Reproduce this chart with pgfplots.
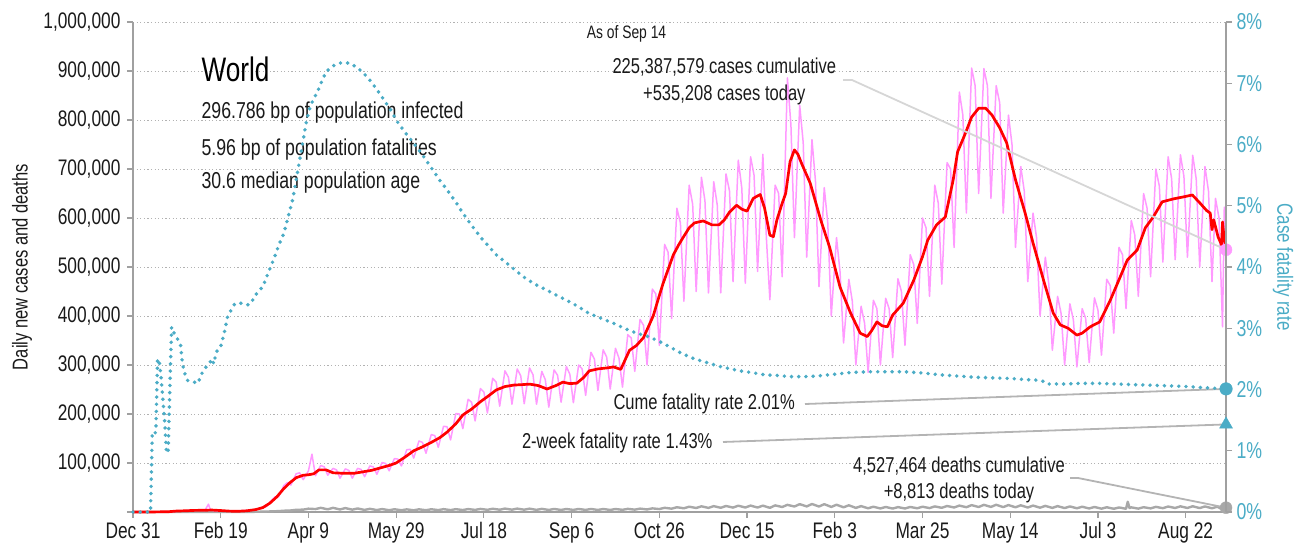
\documentclass[border=0pt]{standalone}
\usepackage{fontspec}
\setmainfont{Liberation Sans}[FakeStretch=0.77]
\usepackage{pgfplots}
\pgfplotsset{compat=1.18}
\definecolor{teal1}{HTML}{4BACC6}
\definecolor{pinkc}{HTML}{FF99FF}
\definecolor{axgrey}{HTML}{A0A0A0}
\definecolor{deathgrey}{HTML}{A8A8A8}
\definecolor{txt}{HTML}{1A1A1A}
\definecolor{leadA}{HTML}{D6D6D6}
\definecolor{leadB}{HTML}{B4B4B4}
\begin{document}
\begin{tikzpicture}[x=1pt,y=1pt]
\useasboundingbox (-133,-38) rectangle (1165,512);
\begin{axis}[
  at={(0,0)}, anchor=south west,
  scale only axis, width=1093pt, height=490pt,
  xmin=0, xmax=623, ymin=0, ymax=1000000,
  axis x line*=bottom, axis y line*=left,
  axis line style={draw=axgrey, line width=1.5pt, -},
  xtick={0,50,100,150,200,250,300,350,400,450,500,550,600},
  xticklabels={Dec 31,Feb 19,Apr 9,May 29,Jul 18,Sep 6,Oct 26,Dec 15,Feb 3,Mar 25,May 14,Jul 3,Aug 22},
  ytick={0,100000,200000,300000,400000,500000,600000,700000,800000,900000,1000000},
  yticklabels={{},{100,000},{200,000},{300,000},{400,000},{500,000},{600,000},{700,000},{800,000},{900,000},{1,000,000}},
  scaled y ticks=false,
  tick align=outside, major tick length=6pt,
  tick style={draw=axgrey, line width=1.2pt},
  ymajorgrids, grid style={draw=black!30, line width=1pt, dash pattern=on 1.2pt off 2.4pt},
  ticklabel style={font=\fontsize{22.5}{25}\selectfont, text=txt},
  yticklabel style={xshift=-3pt},
  xticklabel style={yshift=-1pt},
  ylabel={Daily new cases and deaths},
  ylabel style={font=\fontsize{21.5}{24}\selectfont, text=txt, at={(axis description cs:-0.1016,0.5)}, anchor=center},
  clip=false,
]
% deaths
\addplot[deathgrey, line width=2.4pt, line join=round] coordinates {
(0,0)(55,50)(62,150)(66,300)(69,400)(72,600)(76,900)(79,1300)(83,1800)(86,2600)(90,3200)(93,4500)(97,4800)(100,6800)
(104,6000)(107,8500)(111,5500)(114,8500)(118,5200)(121,8000)(125,4800)(128,7200)(132,4300)(135,6500)(139,4000)(142,6000)
(146,3600)(149,5600)(153,3600)(156,5400)(160,3500)(163,5500)(167,3600)(170,5600)(174,3900)(177,5800)(181,3900)(184,5800)
(188,4000)(191,6000)(195,4300)(198,6300)(202,4500)(205,6600)(209,4700)(212,6900)(216,4800)(219,6900)(223,4700)(226,6800)
(230,4400)(233,6400)(237,4200)(240,6200)(244,4200)(247,6100)(251,4300)(254,6200)(258,4300)(261,6200)(265,4200)(268,6100)
(272,4200)(275,6100)(279,4500)(282,6400)(286,4800)(289,6900)(293,5200)(296,7400)(300,6000)(303,8600)(307,6800)(310,9700)
(314,7600)(317,10800)(321,8200)(324,11600)(328,8400)(331,12000)(335,8600)(338,12300)(342,9000)(345,12900)(349,9200)(352,13100)
(356,9100)(359,13000)(363,8500)(366,13500)(370,10200)(373,14600)(377,11200)(380,16000)(384,11400)(387,16300)(391,11200)(394,16000)
(398,10400)(401,14800)(405,9600)(408,13700)(412,8400)(415,12000)(419,7600)(422,10800)(426,7200)(429,10300)(433,7000)(436,10000)
(440,7200)(443,10300)(447,7600)(450,10800)(454,8000)(457,11400)(461,8600)(464,12300)(468,9200)(471,13100)(475,9800)(478,14000)
(482,10200)(485,14600)(489,10400)(492,14800)(496,10000)(499,14200)(503,9600)(506,13700)(510,9200)(513,13100)(517,8800)(520,12500)
(524,8400)(527,12000)(531,8000)(534,11400)(538,7600)(541,10800)(545,7200)(548,10300)(552,6800)(555,9700)(559,6600)(562,9300)
(566,6600)(567,21000)(568,8000)(569,9500)(573,6900)(576,9800)(580,7400)(583,10500)(587,7800)(590,11200)(594,8200)(597,11600)
(601,8200)(604,11700)(608,8000)(611,11400)(615,7600)(618,10800)(620,7000)(622,10000)(623,8813)
};
% daily cases
\addplot[pinkc, line width=1.5pt, line join=round] coordinates {
(0,0)(10,0)(20,300)(23,900)(26,2000)(29,2100)(32,3200)(35,3900)(38,3800)(41,3000)(43,16000)(44,5500)(46,2600)(49,2400)
(52,1900)(55,1500)(58,1800)(61,2400)(64,3000)(66,3400)(69,4000)(72,7500)(74,10000)(76,11000)(79,24000)(81,31000)
(83,31000)(86,54000)(88,60000)(90,55000)(93,78000)(95,80000)(97,66000)(100,84000)(102,118000)(104,74000)(107,95000)(109,92000)
(111,75000)(114,89000)(116,86000)(118,69000)(121,88000)(123,85000)(125,69000)(128,89000)(130,87000)(132,72000)(135,94000)(137,92000)
(139,77000)(142,101000)(144,99000)(146,84000)(149,109000)(151,108000)(153,94000)(156,127000)(158,128000)(160,110000)(163,145000)(165,142000)
(167,120000)(170,158000)(172,156000)(174,132000)(177,175000)(179,174000)(181,147000)(184,201000)(186,200000)(188,170000)(191,230000)(193,224000)
(195,186000)(198,252000)(200,245000)(202,202000)(205,273000)(207,265000)(209,216000)(212,288000)(214,275000)(216,220000)(219,292000)(221,278000)
(223,221000)(226,294000)(228,280000)(230,220000)(233,287000)(235,270000)(237,214000)(240,290000)(242,279000)(244,224000)(247,297000)(249,281000)
(251,223000)(254,300000)(256,292000)(258,238000)(261,326000)(263,312000)(265,248000)(268,331000)(270,316000)(272,251000)(275,334000)(277,314000)
(279,255000)(282,362000)(284,355000)(286,287000)(289,393000)(291,381000)(293,300000)(296,455000)(298,445000)(300,340000)(303,546000)(305,530000)
(307,395000)(310,620000)(312,590000)(314,430000)(317,667000)(319,628000)(321,450000)(324,683000)(326,635000)(328,447000)(331,674000)(333,627000)
(335,447000)(338,690000)(340,655000)(342,470000)(345,718000)(347,661000)(349,467000)(352,725000)(354,687000)(356,491000)(359,730000)(361,560000)
(363,433000)(366,667000)(368,650000)(370,480000)(373,886000)(375,790000)(377,560000)(380,830000)(382,754000)(384,520000)(387,760000)(389,675000)
(391,460000)(394,662000)(396,590000)(398,400000)(401,560000)(403,490000)(405,345000)(408,475000)(410,430000)(412,300000)(415,420000)(417,385000)
(419,285000)(422,432000)(424,415000)(426,300000)(429,436000)(431,415000)(433,315000)(436,476000)(438,450000)(440,340000)(443,525000)(445,505000)
(447,385000)(450,600000)(452,580000)(454,440000)(457,667000)(459,630000)(461,465000)(464,713000)(466,700000)(468,540000)(471,857000)(473,810000)
(475,610000)(478,906000)(480,870000)(482,650000)(485,905000)(487,870000)(489,640000)(492,870000)(494,835000)(496,610000)(499,810000)(501,750000)
(503,540000)(506,705000)(508,655000)(510,470000)(513,610000)(515,560000)(517,400000)(520,520000)(522,465000)(524,330000)(527,440000)(529,405000)
(531,300000)(534,425000)(536,392000)(538,296000)(541,415000)(543,395000)(545,305000)(548,437000)(550,412000)(552,320000)(555,475000)(557,462000)
(559,365000)(562,540000)(564,525000)(566,415000)(569,595000)(571,565000)(573,440000)(576,650000)(578,620000)(580,480000)(583,700000)(585,665000)
(587,510000)(590,725000)(592,680000)(594,515000)(597,729000)(599,685000)(601,520000)(604,728000)(606,680000)(608,500000)(611,705000)(613,655000)
(615,470000)(617,640000)(619,600000)(621,378000)(622,622000)(623,535208)
};
% 7-day average
\addplot[red, line width=2.7pt, line join=round] coordinates {
(0,0)(10,100)(20,500)(25,2000)(30,2500)(35,3300)(40,3500)(45,4000)(50,3000)(55,1800)(60,1500)(65,2500)(70,5000)(74,9000)
(78,18000)(82,31000)(86,48000)(89.5,60000)(93,70000)(97,75000)(100,76000)(103,78000)(106,86000)(110,86000)(114,80000)(120,79000)
(126,79000)(131,82000)(136,85000)(141,90000)(146,95000)(150,100000)(155,112000)(160,125000)(165,133000)(170,142000)(175,152000)
(179,163000)(184,180000)(188,198000)(193,210000)(198,225000)(203,238000)(207,249000)(212,256000)(217,259000)(222,260000)(226,261000)
(231,258000)(236,251000)(241,258000)(245,265000)(249,262000)(253,263000)(257,275000)(260,288000)(265,292000)(270,294000)(274,296000)
(278,291000)(283,330000)(287,340000)(291,356000)(294,380000)(296.5,400000)(299,430000)(302,465000)(305,495000)(308,525000)(311,545000)
(313.5,560000)(317,580000)(320,590000)(325,594000)(330,586000)(334,586000)(337,596000)(340,612000)(344,626000)(347,618000)(350,614000)
(353.5,640000)(357.5,648000)(360,620000)(363,565000)(365,562000)(367,596000)(370,630000)(372,650000)(374.5,715000)(377,739000)(379,730000)
(381,712000)(386,671000)(392,596000)(397,541000)(403,459000)(409,406000)(414.5,365000)(418.5,358000)(421,370000)(424,388000)(427,380000)
(430,378000)(433,402000)(439,426000)(445,473000)(450,521000)(453,555000)(458,586000)(463,602000)(467.5,678000)(470,735000)(474,769000)
(478,806000)(482,824000)(486,824000)(489.6,810000)(494,784000)(498,753000)(503,678000)(508.5,610000)(513,549000)(519,473000)(524.5,406000)
(528.5,382000)(533,375000)(538,361000)(541,365000)(545.6,378000)(551,388000)(557,432000)(562.7,480000)(566.7,514000)(572.4,535000)
(577,580000)(581.5,602000)(586.6,633000)(593,639000)(598.6,643000)(603.8,647000)(608,631000)(612,615000)(614,610000)(615,576000)
(616,596000)(618.5,561000)(620.5,545000)(621,592000)(622,555000)(623,545000)
};
% leader lines
\draw[leadA, line width=1.8pt] (rel axis cs:0.6496,0.8816) -- (rel axis cs:0.6578,0.8816) -- (axis cs:623,535208);
\draw[leadB, line width=1.8pt] (rel axis cs:0.6148,0.2204) -- (rel axis cs:1,0.25125);
\draw[leadB, line width=1.8pt] (rel axis cs:0.5398,0.1429) -- (rel axis cs:1,0.17875);
\draw[leadB, line width=1.8pt] (rel axis cs:0.8573,0.0694) -- (rel axis cs:0.8646,0.0694) -- (axis cs:623,8813);
\addplot[only marks, mark=*, mark size=6pt, pinkc] coordinates {(623,535208)};
\addplot[only marks, mark=*, mark size=6pt, deathgrey] coordinates {(623,8813)};
% texts
\node[anchor=base west, font=\fontsize{34}{36}\selectfont, text=black] at (rel axis cs:0.0595,0.8782) {World};
\node[anchor=base west, font=\fontsize{23}{26}\selectfont, text=txt] at (rel axis cs:0.0595,0.8035) {296.786 bp of population infected};
\node[anchor=base west, font=\fontsize{23}{26}\selectfont, text=txt] at (rel axis cs:0.0595,0.7279) {5.96 bp of population fatalities};
\node[anchor=base west, font=\fontsize{23}{26}\selectfont, text=txt] at (rel axis cs:0.0595,0.6606) {30.6 median population age};
\node[anchor=base, font=\fontsize{18}{20}\selectfont, text=txt] at (rel axis cs:0.4515,0.9667) {As of Sep 14};
\node[anchor=base, font=\fontsize{21.5}{24}\selectfont, text=txt] at (rel axis cs:0.5410,0.8939) {225,387,579 cases cumulative};
\node[anchor=base, font=\fontsize{21.5}{24}\selectfont, text=txt] at (rel axis cs:0.5410,0.8408) {+535,208 cases today};
\node[anchor=base east, font=\fontsize{21.5}{24}\selectfont, text=txt] at (rel axis cs:0.6087,0.2082) {Cume fatality rate 2.01\%};
\node[anchor=base east, font=\fontsize{21.5}{24}\selectfont, text=txt] at (rel axis cs:0.5334,0.1286) {2-week fatality rate 1.43\%};
\node[anchor=base, font=\fontsize{21.5}{24}\selectfont, text=txt] at (rel axis cs:0.7557,0.0802) {4,527,464 deaths cumulative};
\node[anchor=base, font=\fontsize{21.5}{24}\selectfont, text=txt] at (rel axis cs:0.7557,0.0280) {+8,813 deaths today};
\end{axis}
\begin{axis}[
  at={(0,0)}, anchor=south west,
  scale only axis, width=1093pt, height=490pt,
  xmin=0, xmax=623, ymin=0, ymax=8,
  axis x line=none, axis y line*=right,
  axis line style={draw=axgrey, line width=1.5pt, -},
  ytick={0,1,2,3,4,5,6,7,8},
  yticklabels={0\%,1\%,2\%,3\%,4\%,5\%,6\%,7\%,8\%},
  tick align=outside, major tick length=6pt,
  tick style={draw=axgrey, line width=1.2pt},
  ticklabel style={font=\fontsize{23}{26}\selectfont, text=teal1},
  yticklabel style={xshift=1pt},
  ylabel={Case fatality rate},
  ylabel style={font=\fontsize{22}{25}\selectfont, text=teal1, rotate=180, at={(axis description cs:1.0522,0.5)}, anchor=center},
  clip=false,
]
\addplot[teal1, line width=3.9pt, dash pattern=on 0pt off 7.2pt, line cap=round, line join=round] coordinates {
(0,0)(10,0)(11,1.3)(12,1.28)(13,1.3)(14,2.5)(15,2.45)(16,2.2)(17,1.85)(18,1.5)(19,1.0)(20,0.96)(21,2.0)(22,3.02)(23,2.95)
(24,2.88)(26,2.8)(27,2.75)(28,2.48)(29,2.3)(31,2.15)(34,2.13)(37,2.1)(39,2.25)(41,2.35)(43,2.4)(45,2.5)(46,2.42)(47,2.55)
(48,2.64)(50,2.7)(52,2.92)(54,3.2)(56,3.3)(58,3.4)(62,3.41)(66,3.38)(68,3.45)(70,3.55)(74,3.68)(77,3.9)(80,4.11)(83,4.35)
(86,4.55)(89,4.88)(91,5.1)(93,5.42)(95,5.75)(97,6.07)(99,6.4)(101,6.62)(103,6.75)(105,6.85)(108,7.06)(110,7.18)(112,7.24)
(115,7.3)(118,7.33)(121,7.34)(124,7.32)(127,7.27)(131,7.18)(135,7.05)(139,6.9)(143,6.73)(147,6.56)(150,6.4)(155,6.2)(160,6.02)
(165,5.83)(170,5.62)(175,5.41)(179,5.26)(184,5.06)(188,4.88)(193,4.68)(198,4.49)(203,4.33)(207,4.2)(211,4.11)(217,3.97)
(222,3.85)(229,3.72)(236,3.62)(242,3.53)(247,3.46)(254,3.35)(260,3.24)(267,3.16)(274,3.08)(280,3.0)(287,2.92)(293,2.87)
(299,2.8)(305,2.71)(312,2.6)(320,2.5)(327,2.44)(334,2.38)(340,2.34)(347,2.3)(354,2.27)(360,2.24)(367,2.23)(374,2.21)
(382,2.21)(390,2.22)(400,2.25)(410,2.28)(420,2.29)(430,2.29)(440,2.29)(450,2.27)(460,2.24)(470,2.22)(480,2.20)(490,2.19)
(500,2.18)(510,2.16)(517,2.15)(519,2.13)(521,2.09)(530,2.09)(540,2.10)(551,2.10)(560,2.09)(570,2.08)(580,2.07)(590,2.06)
(600,2.05)(610,2.03)(617,2.02)(623,2.01)
};
\addplot[only marks, mark=*, mark size=6.3pt, teal1] coordinates {(623,2.01)};
\addplot[only marks, mark=triangle*, mark size=7.5pt, teal1] coordinates {(623,1.43)};
\end{axis}
\end{tikzpicture}
\end{document}
